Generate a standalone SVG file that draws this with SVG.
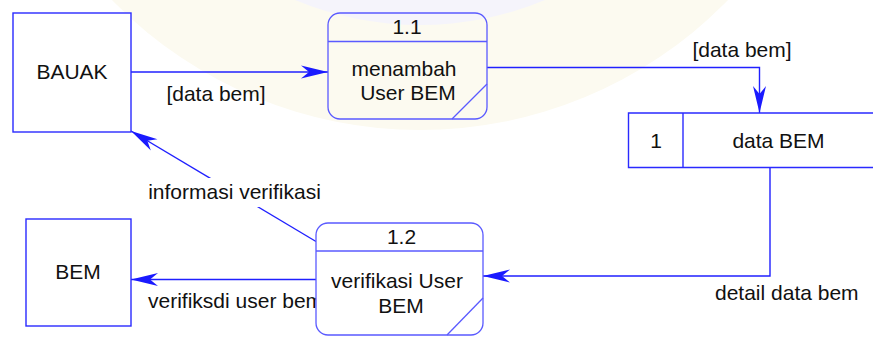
<svg xmlns="http://www.w3.org/2000/svg" width="873" height="338" viewBox="0 0 873 338">
<style>
text{font-family:"Liberation Sans",Arial,sans-serif;font-size:21px;fill:#111}
.ent{fill:#fff;stroke:#2a2aff;stroke-width:1.4}
.proc{stroke:#5a5aff;stroke-width:1.3}
.conn{fill:none;stroke:#2020ff;stroke-width:1.4}
.mid{text-anchor:middle}
</style>
<defs>
<marker id="ah" markerUnits="userSpaceOnUse" viewBox="-28 -7 29 14" refX="0" refY="0" markerWidth="29" markerHeight="14" orient="auto">
<path d="M0,0 L-27,-6.5 L-19,0 L-27,6.5 Z" fill="#1a1aff"/>
</marker>
</defs>
<g id="watermark">
<circle cx="420" cy="-300" r="430" fill="#fcfaf0"/>
<circle cx="420" cy="-300" r="325" fill="#f5f4fb"/>
</g>
<g id="connectors">
<path class="conn" d="M131,72 H328" marker-end="url(#ah)"/>
<path class="conn" d="M487,67.5 H759.5 V113" marker-end="url(#ah)"/>
<path class="conn" d="M770,167.5 V276 H483" marker-end="url(#ah)"/>
<path class="conn" d="M316,279.5 H131" marker-end="url(#ah)"/>
<path class="conn" d="M316,241.5 L131,131" marker-end="url(#ah)"/>
</g>
<g id="BAUAK">
<rect class="ent" x="13" y="13" width="118" height="119"/>
<text class="mid" x="72" y="79">BAUAK</text>
</g>
<g id="BEM">
<rect class="ent" x="26" y="219" width="105" height="107"/>
<text class="mid" x="78" y="279">BEM</text>
</g>
<g id="p1_1">
<rect class="proc" x="328" y="13" width="159" height="106" rx="12" fill="none"/>
<line class="proc" x1="328" y1="41.5" x2="487" y2="41.5"/>
<line class="proc" x1="452" y1="119" x2="487" y2="84"/>
<text class="mid" x="407" y="34">1.1</text>
<text class="mid" x="404" y="76">menambah</text>
<text class="mid" x="408" y="100">User BEM</text>
</g>
<g id="store1">
<path class="ent" d="M873,113 H628.5 V167.5 H873" fill="#fff"/>
<line class="ent" x1="683" y1="113" x2="683" y2="167.5"/>
<text class="mid" x="656" y="148">1</text>
<text class="mid" x="778.5" y="148">data BEM</text>
</g>
<g id="labels">
<text class="mid" x="216" y="101">[data bem]</text>
<text class="mid" x="742" y="57">[data bem]</text>
<rect x="145" y="178" width="180" height="29" fill="#fff"/>
<text class="mid" x="234.5" y="199">informasi verifikasi</text>
<text x="148" y="308">verifiksdi user bem</text>
<text x="715" y="300">detail data bem</text>
</g>
<g id="p1_2">
<rect class="proc" x="316" y="223" width="167" height="112" rx="12" fill="#fff"/>
<line class="proc" x1="316" y1="251" x2="483" y2="251"/>
<line class="proc" x1="447" y1="335" x2="483" y2="298"/>
<text class="mid" x="401.5" y="244">1.2</text>
<text class="mid" x="397" y="288">verifikasi User</text>
<text class="mid" x="401" y="312.5">BEM</text>
</g>
</svg>
